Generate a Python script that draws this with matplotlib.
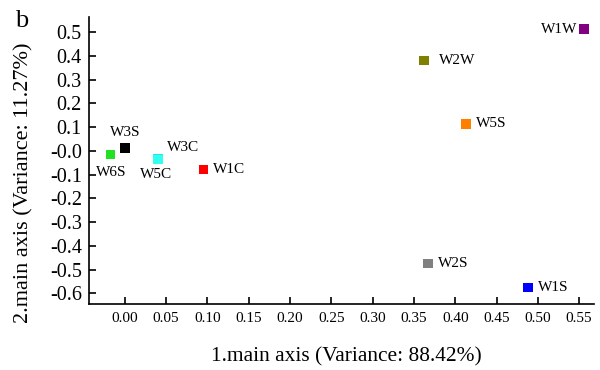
import matplotlib.pyplot as plt

plt.rcParams["font.family"] = ["Liberation Serif", "DejaVu Serif"]

samples = ["W1W", "W2W", "W5S", "W2S", "W1S", "W3S", "W6S", "W3C", "W5C", "W1C"]
axis1 = [0.556, 0.362, 0.413, 0.367, 0.488, 0.000, -0.017, 0.040, 0.040, 0.095]
axis2 = [0.513, 0.380, 0.114, -0.473, -0.576, 0.013, -0.016, -0.034, -0.035, -0.077]
colors = ["#800080", "#808000", "#ff8000", "#808080", "#0000ff",
          "#000000", "#22e022", "#20e8e0", "#33ffee", "#ff0000"]
# label offsets in points (dx, dy, ha)
offsets = {
    "W1W": (-5, 0, "right"), "W2W": (11, 0, "left"), "W5S": (7, 0, "left"),
    "W2S": (7, 0, "left"), "W1S": (7, 0, "left"), "W3S": (0, 11, "center"),
    "W6S": (0, -13, "center"), "W3C": (18, 8.5, "center"),
    "W5C": (-1, -11, "center"), "W1C": (7, 0, "left"),
}

x_ticks = [0.00, 0.05, 0.10, 0.15, 0.20, 0.25, 0.30, 0.35, 0.40, 0.45, 0.50, 0.55]
y_ticks = [0.5, 0.4, 0.3, 0.2, 0.1, 0.0, -0.1, -0.2, -0.3, -0.4, -0.5, -0.6]
y_tick_labels = ["0.5", "0.4", "0.3", "0.2", "0.1", "-0.0", "-0.1", "-0.2",
                 "-0.3", "-0.4", "-0.5", "-0.6"]

fig = plt.figure(figsize=(6, 3.7), dpi=100)
ax = fig.add_axes([0.148, 0.178, 0.842, 0.776])

for name, x, y, c in zip(samples, axis1, axis2, colors):
    ax.scatter(x, y, marker="s", s=46, color=c, edgecolors="none", zorder=3)
    dx, dy, ha = offsets[name]
    ax.annotate(name, (x, y), xytext=(dx, dy), textcoords="offset points",
                ha=ha, va="center", fontsize=11)

ax.set_xlim(-0.0436, 0.568)
ax.set_ylim(-0.645, 0.564)
ax.set_xticks(x_ticks)
ax.set_xticklabels([f"{v:.2f}" for v in x_ticks], fontsize=11)
ax.set_yticks(y_ticks)
ax.set_yticklabels(y_tick_labels, fontsize=14.5)
ax.tick_params(axis="both", direction="in", length=5, width=1.2)
ax.tick_params(axis="x", pad=6)
ax.tick_params(axis="y", pad=5)

for side in ["top", "right"]:
    ax.spines[side].set_visible(False)
for side in ["left", "bottom"]:
    ax.spines[side].set_linewidth(1.2)

ax.set_xlabel("1.main axis (Variance: 88.42%)", fontsize=15.4, va="center")
ax.xaxis.set_label_coords(0.578, 0.035, transform=fig.transFigure)
ax.set_ylabel("2.main axis (Variance: 11.27%)", fontsize=16, va="center")
ax.yaxis.set_label_coords(0.039, 0.505, transform=fig.transFigure)

fig.text(0.025, 0.972, "b", fontsize=19, va="top", ha="left")

fig.savefig("out.png", dpi=100)
